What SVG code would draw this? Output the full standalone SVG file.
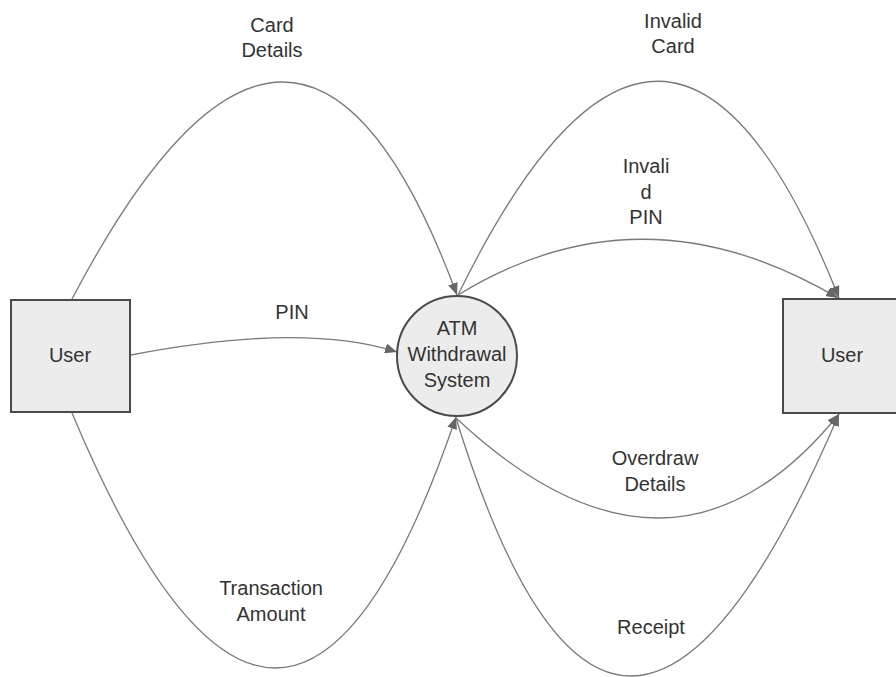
<svg xmlns="http://www.w3.org/2000/svg" width="896" height="677" viewBox="0 0 896 677">
  <style>
    .entity { fill: #ececec; stroke: #4a4a4a; stroke-width: 2; }
    .process { fill: #ececec; stroke: #4a4a4a; stroke-width: 2; }
    .flow { fill: none; stroke: #7a7a7a; stroke-width: 1.3; marker-end: url(#arrow); }
    text { font-family: "Liberation Sans", Arial, sans-serif; font-size: 20px; fill: #333333; text-anchor: middle; }
  </style>
  <defs>
    <marker id="arrow" viewBox="0 0 12 10" refX="12" refY="5" markerWidth="12" markerHeight="10" markerUnits="userSpaceOnUse" orient="auto">
      <path d="M0,0 L12,5 L0,10 Z" fill="#666666"/>
    </marker>
  </defs>

  <rect width="896" height="677" fill="#ffffff"/>

  <!-- data flows -->
  <g id="connectors">
    <path id="flow-card-details" class="flow" d="M72,299 Q299,-133 457,295"/>
    <path id="flow-pin" class="flow" d="M131,355 Q302,322 397,352"/>
    <path id="flow-transaction-amount" class="flow" d="M72,413 Q285,921 456,417"/>
    <path id="flow-invalid-card" class="flow" d="M458,295 Q668,-134 839,298"/>
    <path id="flow-invalid-pin" class="flow" d="M458,295 Q642,182 838,298"/>
    <path id="flow-overdraw-details" class="flow" d="M456,418 Q672,620 839,414"/>
    <path id="flow-receipt" class="flow" d="M456,418 Q616,936 839,414"/>
  </g>

  <!-- flow labels -->
  <g id="labels">
    <text x="272" y="32">Card</text>
    <text x="272" y="57">Details</text>
    <text x="292" y="319">PIN</text>
    <text x="271" y="595">Transaction</text>
    <text x="271" y="621">Amount</text>
    <text x="673" y="28">Invalid</text>
    <text x="673" y="53">Card</text>
    <text x="646" y="173">Invali</text>
    <text x="646" y="199">d</text>
    <text x="646" y="224">PIN</text>
    <text x="655" y="465">Overdraw</text>
    <text x="655" y="491">Details</text>
    <text x="651" y="634">Receipt</text>
  </g>

  <!-- external entity: source -->
  <g id="user-source">
    <rect class="entity" x="11" y="300" width="119" height="112"/>
    <text x="70" y="362">User</text>
  </g>

  <!-- process -->
  <g id="atm-withdrawal-system">
    <circle class="process" cx="457" cy="356" r="60"/>
    <text x="457" y="335">ATM</text>
    <text x="457" y="361">Withdrawal</text>
    <text x="457" y="387">System</text>
  </g>

  <!-- external entity: sink -->
  <g id="user-sink">
    <rect class="entity" x="783" y="299" width="130" height="114"/>
    <text x="842" y="362">User</text>
  </g>
</svg>
